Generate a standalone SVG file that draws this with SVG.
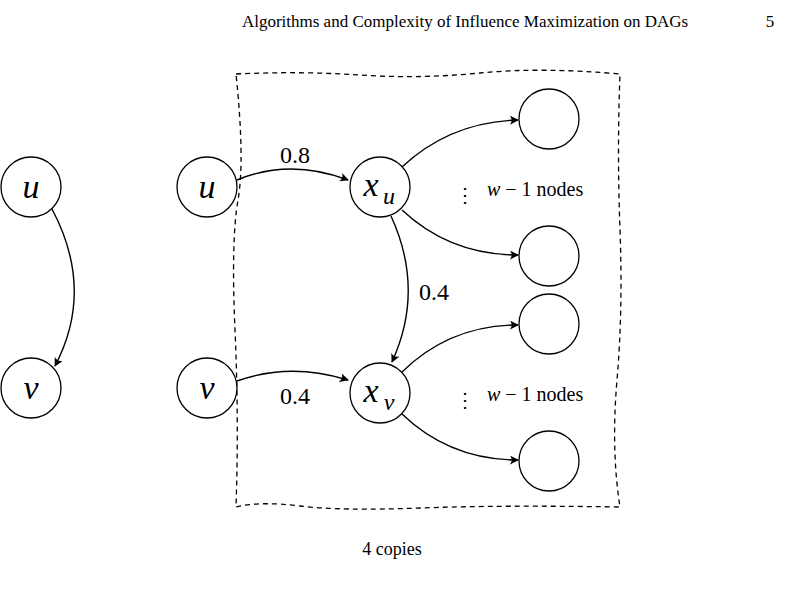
<svg xmlns="http://www.w3.org/2000/svg" width="787" height="614" viewBox="0 0 787 614">
<style>
.n{fill:#fff;stroke:#000;stroke-width:1.3}
.e{fill:none;stroke:#000;stroke-width:1.4;marker-end:url(#a)}
.t{font-family:"Liberation Serif",serif;fill:#000}
.m{font-family:"Liberation Serif",serif;font-style:italic;fill:#000}
</style>
<defs><marker id="a" viewBox="0 0 10 10" refX="9" refY="5" markerWidth="9" markerHeight="9" markerUnits="userSpaceOnUse" orient="auto"><path d="M0,0 Q4,5 0,10 L10,5 Z" fill="#000"/></marker></defs>
<rect width="787" height="614" fill="#fff"/>
<text class="t" x="465" y="27" font-size="17" text-anchor="middle">Algorithms and Complexity of Influence Maximization on DAGs</text>
<text class="t" x="770" y="27" font-size="17" text-anchor="middle">5</text>
<path d="M236,74 Q300,71 360,75 T480,73 T620,74 Q617,150 620,230 T617,380 T620,507 Q500,505 420,508 T300,506 T236,507 Q239,420 235,330 T238,200 T236,74 Z" fill="none" stroke="#000" stroke-width="1.3" stroke-dasharray="5,4"/>
<g id="connectors">
<path class="e" d="M52,209 Q95,290 55,366"/>
<path class="e" d="M237,180 Q290,158 348,180"/>
<path class="e" d="M237,381 Q290,362 348,380"/>
<path class="e" d="M391,216 Q425,290 392,362"/>
<path class="e" d="M402,167 Q450,122 518,120"/>
<path class="e" d="M402,210 Q450,255 518,255"/>
<path class="e" d="M402,372 Q450,325 518,325"/>
<path class="e" d="M402,414 Q450,460 518,460"/>
</g>
<g id="lu"><circle class="n" cx="31" cy="187" r="30"/><text class="m" x="31" y="198" font-size="34" text-anchor="middle">u</text></g>
<g id="lv"><circle class="n" cx="31" cy="388" r="30"/><text class="m" x="31" y="399" font-size="34" text-anchor="middle">v</text></g>
<g id="u"><circle class="n" cx="207" cy="187" r="30"/><text class="m" x="207" y="198" font-size="34" text-anchor="middle">u</text></g>
<g id="v"><circle class="n" cx="207" cy="388" r="30"/><text class="m" x="207" y="399" font-size="34" text-anchor="middle">v</text></g>
<g id="xu"><circle class="n" cx="380" cy="187" r="30"/><text class="m" x="371" y="196" font-size="34" text-anchor="middle">x</text><text class="m" x="389" y="204" font-size="24" text-anchor="middle">u</text></g>
<g id="xv"><circle class="n" cx="380" cy="393" r="30"/><text class="m" x="371" y="402" font-size="34" text-anchor="middle">x</text><text class="m" x="389" y="410" font-size="24" text-anchor="middle">v</text></g>
<g id="r1"><circle class="n" cx="549" cy="119" r="30"/></g>
<g id="r2"><circle class="n" cx="549" cy="256" r="30"/></g>
<g id="r3"><circle class="n" cx="549" cy="324" r="30"/></g>
<g id="r4"><circle class="n" cx="549" cy="461" r="30"/></g>
<text class="t" x="295" y="163" font-size="24" text-anchor="middle">0.8</text>
<text class="t" x="295" y="404" font-size="24" text-anchor="middle">0.4</text>
<text class="t" x="434" y="300" font-size="24" text-anchor="middle">0.4</text>
<g id="l1"><text class="t" x="465" y="202" font-size="20" text-anchor="middle">⋮</text><text class="t" x="487" y="196" font-size="20"><tspan font-style="italic">w</tspan> − 1 nodes</text></g>
<g id="l2"><text class="t" x="465" y="407" font-size="20" text-anchor="middle">⋮</text><text class="t" x="487" y="401" font-size="20"><tspan font-style="italic">w</tspan> − 1 nodes</text></g>
<text class="t" x="392" y="555" font-size="18" text-anchor="middle">4 copies</text>
</svg>
